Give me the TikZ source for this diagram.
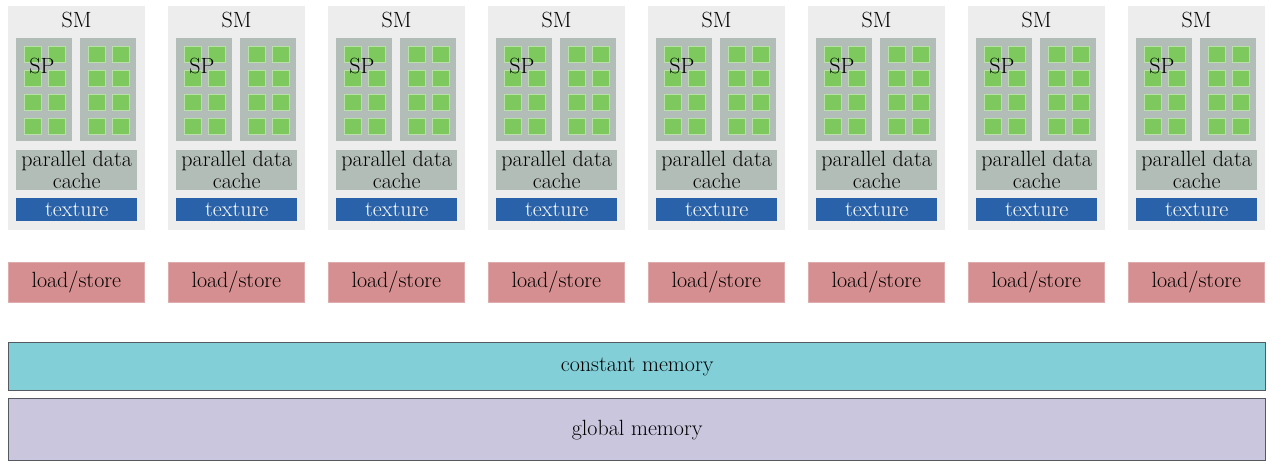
\documentclass[tikz,border=0pt]{standalone}
\usepackage{fontspec}
\definecolor{smgray}{HTML}{EDEDED}
\definecolor{spgray}{HTML}{B3BDB8}
\definecolor{coregreen}{HTML}{7DC95E}
\definecolor{texblue}{HTML}{2A62A9}
\definecolor{lsred}{HTML}{D68F90}
\definecolor{constcyan}{HTML}{82CFD8}
\definecolor{globlilac}{HTML}{C9C6DD}
\definecolor{memedge}{HTML}{555A60}
\tikzset{
  txt/.style={font=\fontsize{22}{22}\selectfont, text=black},
  smbox/.style={fill=smgray, draw=none, anchor=north west, inner sep=0pt,
                minimum width=137pt, minimum height=224pt},
  spcol/.style={fill=spgray, draw=none, anchor=north west, inner sep=0pt,
                minimum width=56pt, minimum height=103pt},
  core/.style={fill=coregreen, draw=coregreen!55!white, line width=0.8pt,
               anchor=north west, inner sep=0pt,
               minimum width=16.5pt, minimum height=16.5pt},
  cachebox/.style={txt, fill=spgray, draw=none, anchor=north west, inner sep=0pt,
                   minimum width=121pt, minimum height=40pt, align=center},
  texbox/.style={txt, text=white, fill=texblue, draw=none, anchor=north west,
                 inner sep=0pt, minimum width=121pt, minimum height=23pt},
  lsbox/.style={txt, fill=lsred, draw=lsred!75!white, line width=0.6pt,
                anchor=north west, inner sep=0pt,
                minimum width=136pt, minimum height=40pt},
  membox/.style={txt, draw=memedge, line width=1.4pt, anchor=north west,
                 inner sep=0pt, minimum width=1257pt},
}
\begin{document}
\begin{tikzpicture}[x=1pt, y=-1pt]
  \useasboundingbox (0,0) rectangle (1272,462);
  \foreach \i in {0,...,7} {
    \pgfmathsetmacro\ox{8+160*\i}
    % streaming multiprocessor
    \node[smbox] (sm\i) at (\ox,6) {};
    \node[txt] (smt\i) at (\ox+68.5,20) {SM};
    % two columns of scalar processors
    \node[spcol] (spl\i) at (\ox+8,38) {};
    \node[spcol] (spr\i) at (\ox+72,38) {};
    \foreach \cx [count=\c] in {16,40,80,104} {
      \foreach \ry [count=\r] in {46,70,94,118} {
        \node[core] (core\i-\c-\r) at (\ox+\cx,\ry) {};
      }
    }
    \node[txt] (sp\i) at (\ox+34,66) {SP};
    % caches
    \node[cachebox] (cache\i) at (\ox+8,150) {parallel data\\cache};
    \node[texbox] (tex\i) at (\ox+8,198) {texture};
    % load/store unit
    \node[lsbox] (ls\i) at (\ox,262) {load/store};
  }
  % shared memories
  \node[membox, fill=constcyan, minimum height=48pt] (const) at (8,342) {constant memory};
  \node[membox, fill=globlilac, minimum height=62pt] (global) at (8,398) {global memory};
\end{tikzpicture}
\end{document}
